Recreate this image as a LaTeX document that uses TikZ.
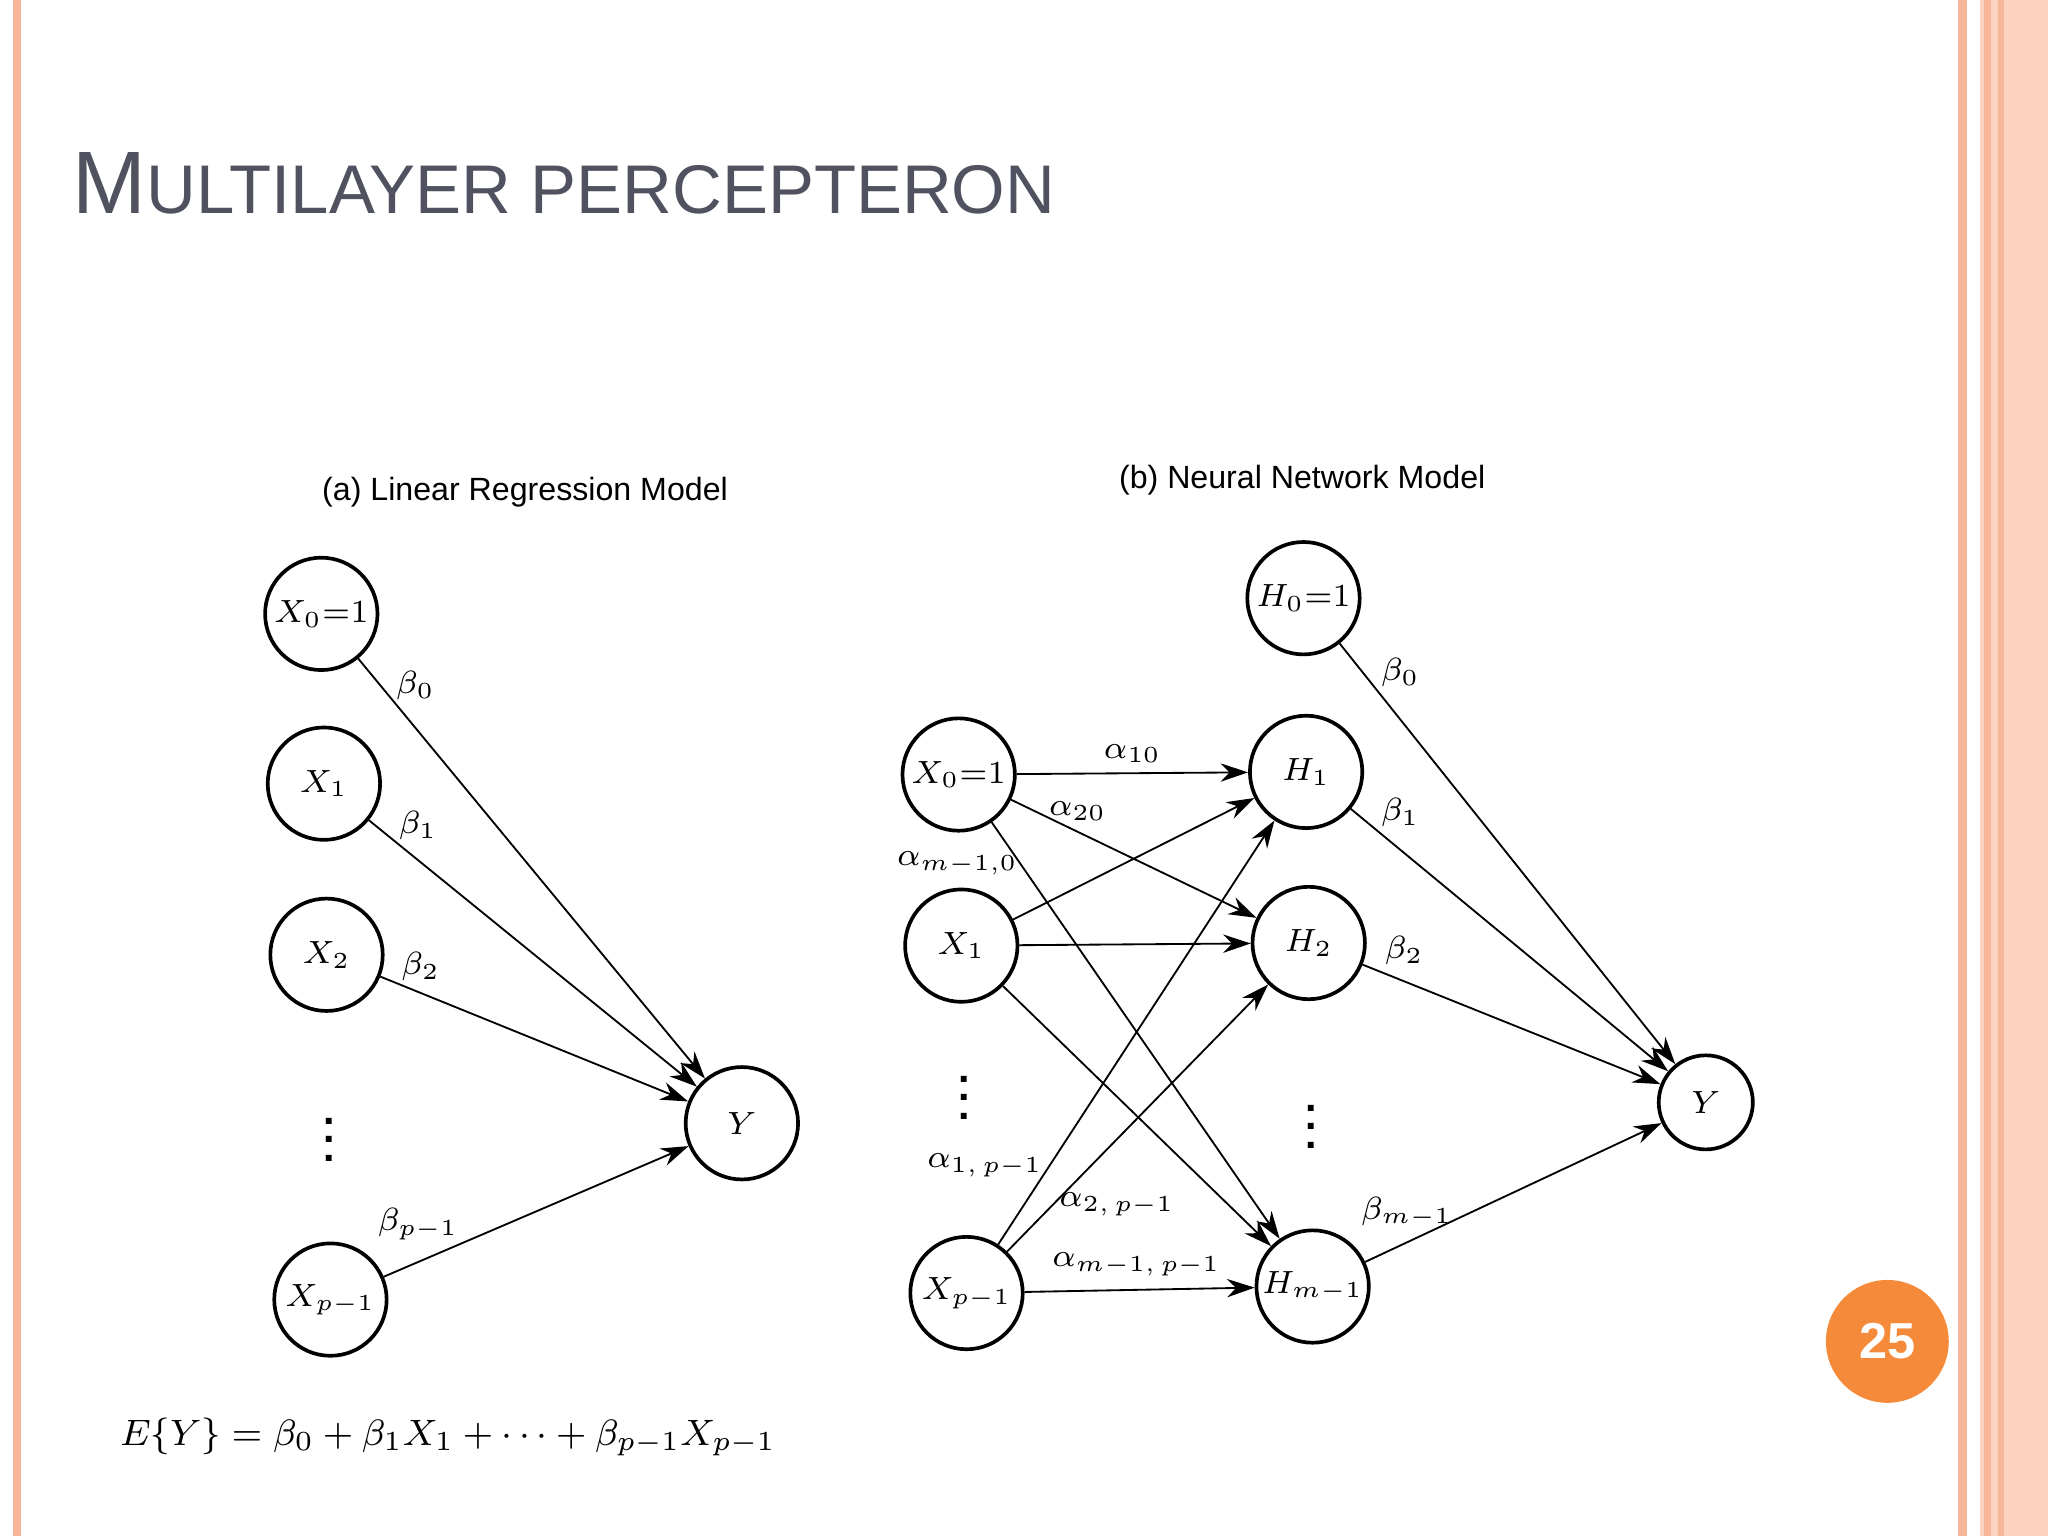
\documentclass[tikz,border=0pt]{standalone}
\usepackage{fontspec}
\setmainfont{Liberation Sans}
\usetikzlibrary{arrows.meta}
\definecolor{stripe}{HTML}{F7B59A}
\definecolor{band}{HTML}{FBD3C0}
\definecolor{titlec}{HTML}{50535F}
\definecolor{badge}{HTML}{F58B3A}
\begin{document}
\begin{tikzpicture}[x=0.01cm,y=-0.01cm,
  nd/.style={circle,draw,thick,minimum size=0.86cm,inner sep=0pt,font=\fontsize{7.3}{8}\selectfont},
  ar/.style={-{Stealth[length=6pt,width=4pt]},thin},
  lb/.style={font=\fontsize{7.3}{8}\selectfont},
  dt/.style={font=\fontsize{9}{10}\selectfont\bfseries},
  captxt/.style={font=\fontsize{7}{9}\selectfont}]
\fill[white] (0,0) rectangle (1568,1176);
\useasboundingbox (0,0) rectangle (1568,1176);
\fill[stripe] (10,0) rectangle (16,1176);
\fill[stripe] (1499,0) rectangle (1506,1176);
\fill[band] (1516,0) rectangle (1568,1176);
\fill[stripe] (1519,0) rectangle (1524,1176);
\fill[stripe] (1530,0) rectangle (1534,1176);
\node[anchor=west,text=titlec,inner sep=0pt] (title) at (55,140)
  {\fontsize{19.3}{22}\selectfont M\fontsize{15}{18}\selectfont ULTILAYER PERCEPTERON};
\node[circle,fill=badge,minimum size=0.94cm,text=white,font=\bfseries\fontsize{11}{12}\selectfont] (pg) at (1445,1027) {25};
% (a)
\node[captxt] (capa) at (402,377) {(a) Linear Regression Model};
\node[nd] (a0) at (246,470) {$X_0{=}1$};
\node[nd] (a1) at (248,600) {$X_1$};
\node[nd] (a2) at (250,731) {$X_2$};
\node[dt] (ad) at (252,862) {$\vdots$};
\node[nd] (ap) at (253,995) {$X_{p-1}$};
\node[nd] (ay) at (568,860) {$Y$};
\foreach \s in {a0,a1,a2,ap} \draw[ar] (\s) -- (ay);
\node[lb] (b0) at (318,525) {$\beta_0$};
\node[lb] (b1) at (320,632) {$\beta_1$};
\node[lb] (b2) at (322,740) {$\beta_2$};
\node[lb] (bp) at (320,937) {$\beta_{p-1}$};
\node[font=\fontsize{8.5}{10}\selectfont] (eq) at (343,1100) {$E\{Y\}=\beta_0+\beta_1X_1+\cdots+\beta_{p-1}X_{p-1}$};
% (b)
\node[captxt] (capb) at (997,368) {(b) Neural Network Model};
\node[nd] (h0) at (998,458) {$H_0{=}1$};
\node[nd] (h1) at (1000,591) {$H_1$};
\node[nd] (h2) at (1002,722) {$H_2$};
\node[dt] (hd) at (1004,852) {$\vdots$};
\node[nd] (hm) at (1005,985) {$H_{m-1}$};
\node[nd,minimum size=0.72cm] (by) at (1306,844) {$Y$};
\node[nd] (x0) at (734,593) {$X_0{=}1$};
\node[nd] (x1) at (736,724) {$X_1$};
\node[dt] (xd) at (738,830) {$\vdots$};
\node[nd] (xp) at (740,990) {$X_{p-1}$};
\foreach \s in {x0,x1,xp} \foreach \t in {h1,h2,hm} \draw[ar] (\s) -- (\t);
\foreach \s in {h0,h1,h2,hm} \draw[ar] (\s) -- (by);
\node[lb] (l1) at (867,577) {$\alpha_{10}$};
\node[lb] (l2) at (825,621) {$\alpha_{20}$};
\node[lb] (l3) at (733,661) {$\alpha_{m-1,0}$};
\node[lb] (l4) at (754,892) {$\alpha_{1,\,p-1}$};
\node[lb] (l5) at (855,922) {$\alpha_{2,\,p-1}$};
\node[lb] (l6) at (870,968) {$\alpha_{m-1,\,p-1}$};
\node[lb] (g0) at (1072,515) {$\beta_0$};
\node[lb] (g1) at (1072,622) {$\beta_1$};
\node[lb] (g2) at (1075,728) {$\beta_2$};
\node[lb] (gm) at (1077,928) {$\beta_{m-1}$};
\end{tikzpicture}
\end{document}
